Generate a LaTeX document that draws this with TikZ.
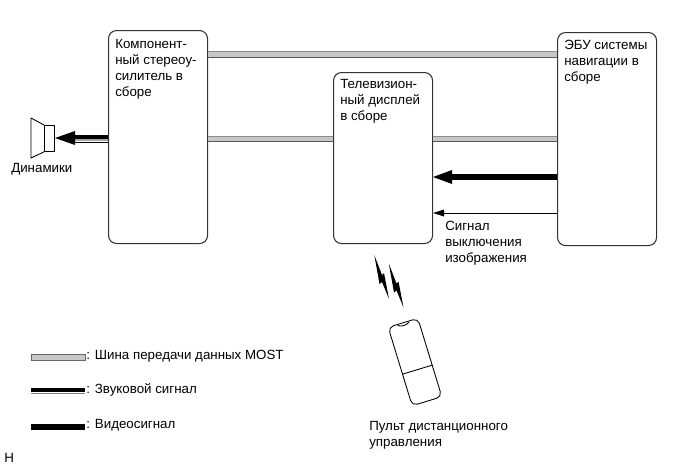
\documentclass[tikz,border=0pt]{standalone}
\usepackage{fontspec}
\setmainfont{Liberation Sans}
\usetikzlibrary{arrows.meta,calc}
\tikzset{
  x=0.75pt,y=-0.75pt,
  unit box/.style={draw=black!80,line width=0.8pt,rounded corners=6pt,minimum width=74.25pt,inner sep=0pt,anchor=north west},
  caption/.style={font=\fontsize{10}{12}\selectfont,align=left,inner sep=0pt,anchor=north west},
  bus fill/.style={draw=none,fill=black!22},
  bus edge/.style={draw=black!65,line width=0.7pt},
  bus top/.style={draw=black!45,line width=0.4pt},
  video/.style={draw=black,line width=4.5pt},
  audio/.style={draw=black,line width=3pt},
  sig tip/.style={fill=black,draw=none},
  outline/.style={draw=black,line width=0.65pt,line join=round}
}
\begin{document}
\begin{tikzpicture}
\useasboundingbox (0,0) rectangle (691,465);

% Functional units
\node[unit box,minimum height=159.75pt] (amp) at (108,30) {};
\node[unit box,minimum height=128.25pt] (tv) at (333,72) {};
\node[unit box,minimum height=159.75pt] (ecu) at (557,32) {};
\node[caption] (amptext) at (115,39.5) {Компонент-\\ный стереоу-\\силитель в\\сборе};
\node[caption] (tvtext) at (340,79.5) {Телевизион-\\ный дисплей\\в сборе};
\node[caption] (ecutext) at (564,40) {ЭБУ системы\\навигации в\\сборе};

% MOST bus between the units
\coordinate (y1) at (0,54.5);
\coordinate (y2) at (0,138.8);
\fill[bus fill] ($(amp.east |- y1)+(0,-3)$) rectangle ($(ecu.west |- y1)+(0,3)$);
\draw[bus top] ($(amp.east |- y1)+(0,-3)$) -- ($(ecu.west |- y1)+(0,-3)$);
\draw[bus edge] ($(amp.east |- y1)+(0,3)$) -- ($(ecu.west |- y1)+(0,3)$);
\fill[bus fill] ($(amp.east |- y2)+(0,-3)$) rectangle ($(tv.west |- y2)+(0,3)$);
\draw[bus top] ($(amp.east |- y2)+(0,-3)$) -- ($(tv.west |- y2)+(0,-3)$);
\draw[bus edge] ($(amp.east |- y2)+(0,3)$) -- ($(tv.west |- y2)+(0,3)$);
\fill[bus fill] ($(tv.east |- y2)+(0,-3)$) rectangle ($(ecu.west |- y2)+(0,3)$);
\draw[bus top] ($(tv.east |- y2)+(0,-3)$) -- ($(ecu.west |- y2)+(0,-3)$);
\draw[bus edge] ($(tv.east |- y2)+(0,3)$) -- ($(ecu.west |- y2)+(0,3)$);

% Speaker
\node[draw=black,line width=0.65pt,minimum width=7.5pt,minimum height=19.5pt,inner sep=0pt,anchor=north west] (spk) at (44,125) {};
\draw[outline] (spk.north west) -- (31,118) -- (31,158) -- (spk.south west);
\node[caption] (spktext) at (11,163) {Динамики};

% Audio line to the speaker
\coordinate (ya) at (0,140);
\draw[black!35,line width=1.4pt] (amp.west |- ya) -- (73,140);
\draw[audio] ($(amp.west |- ya)+(0,-3)$) -- (73,137);
\draw[black,line width=0.6pt] ($(amp.west |- ya)+(0,2.3)$) -- (73,142.3);
\fill[sig tip] (55,138) -- (75,131) -- (75,145) -- cycle;

% Video line and blanking signal into the display
\coordinate (yv) at (0,177);
\coordinate (ys) at (0,213);
\draw[video] (ecu.west |- yv) -- (450,177);
\fill[sig tip] (tv.east |- yv) -- (452,170) -- (452,184) -- cycle;
\draw[black,line width=0.6pt] (ecu.west |- ys) -- (440,213);
\fill[sig tip] (tv.east |- ys) -- (444,209.5) -- (444,216.5) -- cycle;
\node[caption] (sigtext) at (445,221) {Сигнал\\выключения\\изображения};

% Infrared bolts from the remote control
\fill[black] (374.3,255) -- (382,275) -- (384,273) -- (389,299) -- (382,282) -- (379.5,284) -- cycle;
\fill[black,shift={(14.5,8.5)}] (374.3,255) -- (382,275) -- (384,273) -- (389,299) -- (382,282) -- (379.5,284) -- cycle;

% Remote control
\begin{scope}[shift={(415,362)},rotate=17]
  \draw[outline,rounded corners=4pt] (-15.5,-41) rectangle (15.5,41);
  \draw[outline] (-15.5,8) -- (15.5,8);
  \draw[outline] (-6,-40) .. controls (-3,-37.5) and (3,-37.5) .. (6,-40);
\end{scope}
\node[caption] (remtext) at (369,421) {Пульт дистанционного\\управления};

% Legend
\coordinate (k1) at (31,357);
\coordinate (k2) at (31,391);
\coordinate (k3) at (31,426.5);
\coordinate (k1e) at (85,357);
\coordinate (k2e) at (85,391);
\coordinate (k3e) at (85,426.5);
\fill[bus fill] ($(k1)+(0,-2.5)$) rectangle ($(k1e)+(0,3)$);
\draw[black!60,line width=0.5pt] ($(k1)+(0,-2.5)$) rectangle ($(k1e)+(0,3)$);
\draw[audio] ($(k2)+(0,-1)$) -- ($(k2e)+(0,-1)$);
\draw[black!50,line width=0.6pt] ($(k2)+(0,2.5)$) -- ($(k2e)+(0,2.5)$);
\draw[video] (k3) -- (k3e);
\node[caption,anchor=west] (k1text) at (86,356) {: Шина передачи данных MOST};
\node[caption,anchor=west] (k2text) at (86,390) {: Звуковой сигнал};
\node[caption,anchor=west] (k3text) at (86,425) {: Видеосигнал};
\node[caption] (mark) at (4,453) {H};
\end{tikzpicture}
\end{document}
